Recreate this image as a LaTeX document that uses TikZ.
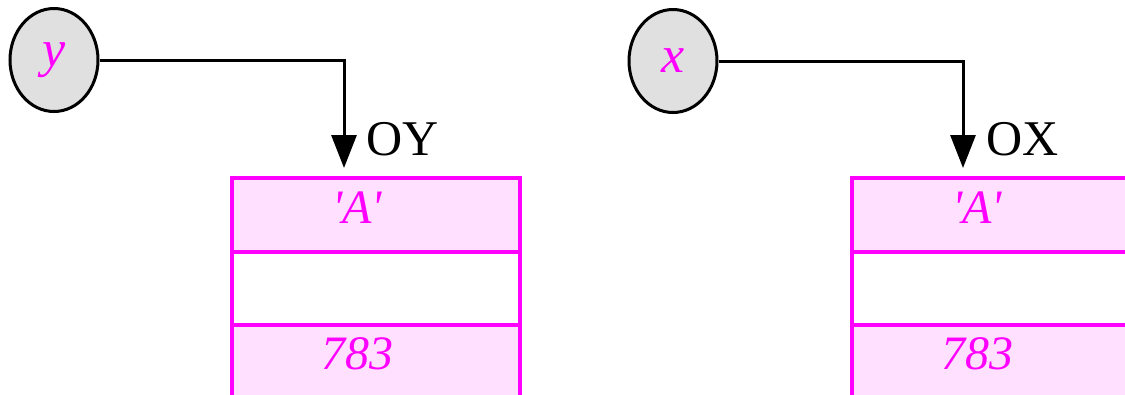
\documentclass[tikz,border=0pt]{standalone}
\usepackage{fontspec}
\setmainfont{Liberation Serif}
\usetikzlibrary{arrows.meta,shapes.geometric}
\definecolor{mag}{HTML}{FF00FF}
\definecolor{pinkfill}{HTML}{FFE0FF}
\definecolor{varfill}{HTML}{E0E0E0}
\tikzset{
  varnode/.style={ellipse,draw=black,line width=3pt,fill=varfill,minimum width=88pt,minimum height=103pt,inner sep=0pt,
     font=\fontsize{52}{60}\selectfont\itshape,text=mag},
  cellfill/.style={rectangle,draw=mag,line width=4pt,fill=pinkfill,minimum width=288pt,minimum height=74pt,inner sep=0pt},
  cellempty/.style={rectangle,draw=mag,line width=4pt,fill=white,minimum width=288pt,minimum height=74pt,inner sep=0pt},
  celltext/.style={font=\fontsize{48}{56}\selectfont\itshape,text=mag,inner sep=0pt},
  refline/.style={draw=black,line width=3pt,-{Triangle[width=25pt,length=33pt]}},
  reflabel/.style={font=\fontsize{50}{60}\selectfont,text=black,inner sep=0pt,anchor=base west}
}
\begin{document}
\begin{tikzpicture}[x=1pt,y=1pt]
\useasboundingbox (0,0) rectangle (1125,-394);
\clip (0,0) rectangle (1125,-394);
% left structure
\node[varnode] (ny) at (54,-60) {y};
\node[cellfill] (ly1) at (376,-215) {};
\node[cellempty] (ly2) at (376,-288.5) {};
\node[cellfill] (ly3) at (376,-362) {};
\node[celltext] (ty1) at (357,-208) {\textquotesingle A\textquotesingle};
\node[celltext] (ty3) at (357,-354) {783};
\coordinate (ay) at (344,-168);
\draw[refline] (ny.east) -| (ay);
\node[reflabel] (oy) at (366,-155) {OY};
% right structure
\node[varnode] (nx) at (673,-61) {x};
\node[cellfill] (rx1) at (996,-215) {};
\node[cellempty] (rx2) at (996,-288.5) {};
\node[cellfill] (rx3) at (996,-362) {};
\node[celltext] (tx1) at (977,-208) {\textquotesingle A\textquotesingle};
\node[celltext] (tx3) at (977,-354) {783};
\coordinate (ax) at (963,-168);
\draw[refline] (nx.east) -| (ax);
\node[reflabel] (ox) at (986,-155) {OX};
\end{tikzpicture}
\end{document}
